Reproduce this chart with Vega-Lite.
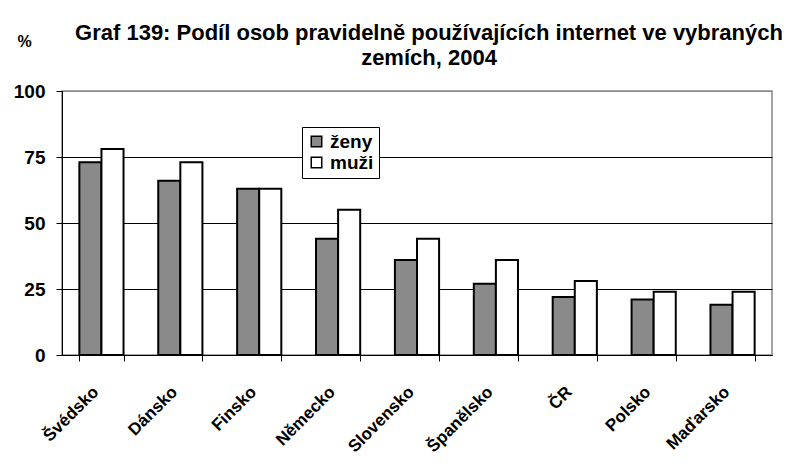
{
  "$schema": "https://vega.github.io/schema/vega-lite/v6.json",
  "autosize": {"type": "none"},
  "padding": {"left": 62, "top": 91, "right": 31, "bottom": 115},
  "width": 710,
  "height": 264,
  "background": "white",
  "title": {
    "text": ["Graf 139: Podíl osob pravidelně používajících internet ve vybraných", "zemích, 2004"],
    "font": "Liberation Sans",
    "fontSize": 22,
    "fontWeight": "bold",
    "color": "black",
    "anchor": "middle",
    "lineHeight": 25,
    "offset": -37,
    "dx": 12
  },
  "data": {
    "values": [
      {"country": "Švédsko", "sex": "ženy", "value": 73},
      {"country": "Švédsko", "sex": "muži", "value": 78},
      {"country": "Dánsko", "sex": "ženy", "value": 66},
      {"country": "Dánsko", "sex": "muži", "value": 73},
      {"country": "Finsko", "sex": "ženy", "value": 63},
      {"country": "Finsko", "sex": "muži", "value": 63},
      {"country": "Německo", "sex": "ženy", "value": 44},
      {"country": "Německo", "sex": "muži", "value": 55},
      {"country": "Slovensko", "sex": "ženy", "value": 36},
      {"country": "Slovensko", "sex": "muži", "value": 44},
      {"country": "Španělsko", "sex": "ženy", "value": 27},
      {"country": "Španělsko", "sex": "muži", "value": 36},
      {"country": "ČR", "sex": "ženy", "value": 22},
      {"country": "ČR", "sex": "muži", "value": 28},
      {"country": "Polsko", "sex": "ženy", "value": 21},
      {"country": "Polsko", "sex": "muži", "value": 24},
      {"country": "Maďarsko", "sex": "ženy", "value": 19},
      {"country": "Maďarsko", "sex": "muži", "value": 24}
    ]
  },
  "mark": {"type": "bar", "stroke": "black", "strokeWidth": 2},
  "encoding": {
    "x": {
      "field": "country",
      "type": "nominal",
      "sort": null,
      "scale": {"paddingInner": 0.44, "paddingOuter": 0.22},
      "axis": {
        "title": null,
        "labelAngle": -45,
        "labelAlign": "right",
        "labelBaseline": "middle",
        "labelFont": "Liberation Sans",
        "labelFontSize": 17,
        "labelFontWeight": "bold",
        "labelColor": "black",
        "labelOffset": -6,
        "labelPadding": 28,
        "tickBand": "extent",
        "tickColor": "black",
        "tickSize": 6,
        "domainColor": "black",
        "domainWidth": 1,
        "grid": false
      }
    },
    "xOffset": {"field": "sex", "type": "nominal", "sort": ["ženy", "muži"]},
    "y": {
      "field": "value",
      "type": "quantitative",
      "scale": {"domain": [0, 100]},
      "axis": {
        "title": "%",
        "titleAngle": 0,
        "titleX": -38,
        "titleY": -50,
        "titleAlign": "center",
        "titleBaseline": "middle",
        "titleFont": "Liberation Sans",
        "titleFontSize": 16,
        "titleFontWeight": "bold",
        "titleColor": "black",
        "values": [0, 25, 50, 75, 100],
        "labelFont": "Liberation Sans",
        "labelFontSize": 19,
        "labelFontWeight": "bold",
        "labelColor": "black",
        "labelPadding": 11,
        "tickColor": "black",
        "tickSize": 6,
        "domainColor": "black",
        "grid": true,
        "gridColor": {"condition": {"test": "datum.value == 100", "value": "#888888"}, "value": "black"},
        "gridWidth": 1,
        "gridOpacity": 1
      }
    },
    "fill": {
      "field": "sex",
      "type": "nominal",
      "sort": ["ženy", "muži"],
      "scale": {"domain": ["ženy", "muži"], "range": ["#8a8a8a", "#ffffff"]},
      "legend": {
        "title": null,
        "orient": "none",
        "legendX": 240,
        "legendY": 36,
        "direction": "vertical",
        "symbolType": "square",
        "symbolSize": 110,
        "symbolStrokeColor": "black",
        "symbolStrokeWidth": 1.5,
        "labelFont": "Liberation Sans",
        "labelFontSize": 19,
        "labelFontWeight": "bold",
        "labelColor": "black",
        "rowPadding": 1,
        "padding": 5,
        "strokeColor": "black",
        "fillColor": "white"
      }
    }
  },
  "config": {
    "view": {"stroke": "#888888", "strokeWidth": 1.5}
  }
}
